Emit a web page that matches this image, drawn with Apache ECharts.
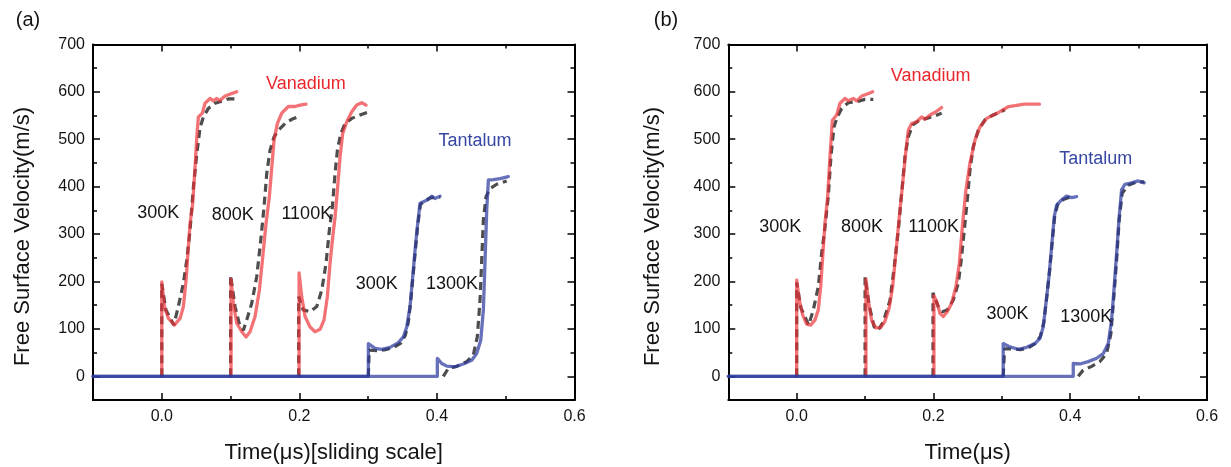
<!DOCTYPE html>
<html>
<head>
<meta charset="utf-8">
<script src="https://cdn.jsdelivr.net/npm/echarts@6/dist/echarts.min.js"></script>
<style>
html,body{margin:0;padding:0;background:#fff;}
#c{width:1231px;height:467px;}
</style>
</head>
<body>
<div id="c"></div>
<script>
// ---------- DATA (time in µs, velocity in m/s) ----------
// Panel (a): sliding time scale
const aV300Exp = [[0,0],[0,199],[0.0038,147],[0.0097,122],[0.0183,108],[0.0266,122],[0.0314,147],[0.0353,203],[0.0387,273],[0.0411,322],[0.045,365],[0.0484,442],[0.0509,505],[0.0532,547],[0.059,555],[0.0629,576],[0.0702,586],[0.075,581],[0.08,586],[0.084,581],[0.092,591],[0.099,595],[0.109,600]];
const aV300Sim = [[0,0],[0,195],[0.006,140],[0.0175,108],[0.024,147],[0.0314,196],[0.0363,245],[0.0411,308],[0.0459,398],[0.0509,469],[0.0557,525],[0.0605,547],[0.0677,565],[0.0775,576],[0.0872,580],[0.0968,585],[0.111,585]];
const aV800Exp = [[0.1007,0],[0.1007,205],[0.104,154],[0.109,112],[0.1163,94],[0.1225,83],[0.1283,94],[0.1356,126],[0.1419,182],[0.1468,252],[0.1516,323],[0.1564,379],[0.16,442],[0.1632,498],[0.168,533],[0.1744,555],[0.184,569],[0.1938,569],[0.201,572],[0.2097,574]];
const aV800Sim = [[0.1,0],[0.1,213],[0.1065,147],[0.1138,104],[0.1186,97],[0.1235,119],[0.1308,154],[0.138,210],[0.1439,287],[0.1487,358],[0.1526,428],[0.1574,477],[0.1632,505],[0.1695,519],[0.1792,533],[0.189,542],[0.201,549]];
const aV1100Exp = [[0.1996,0],[0.1996,218],[0.2034,168],[0.2083,126],[0.2156,104],[0.2228,94],[0.2301,99],[0.2359,119],[0.2407,168],[0.2446,238],[0.248,287],[0.2519,336],[0.2553,393],[0.2592,463],[0.263,512],[0.2689,537],[0.2762,558],[0.2834,572],[0.2907,577],[0.297,572]];
const aV1100Sim = [[0.199,0],[0.199,168],[0.2056,140],[0.2156,136],[0.2253,147],[0.2326,182],[0.2388,238],[0.2436,308],[0.248,358],[0.2519,428],[0.2553,477],[0.2602,512],[0.2664,533],[0.2762,544],[0.2882,551],[0.3052,560]];
const aTa300Exp = [[-0.1,0],[0.3003,0],[0.3003,69],[0.31,59],[0.3198,57],[0.3318,61],[0.3439,71],[0.3512,83],[0.3561,104],[0.3609,147],[0.3648,210],[0.3682,266],[0.3715,315],[0.3754,365],[0.3802,368],[0.3875,373],[0.3924,380],[0.3972,375],[0.4045,380]];
const aTa300Sim = [[0.3003,0],[0.3015,55],[0.3148,54],[0.325,56],[0.3375,61],[0.3475,70],[0.354,86],[0.3585,115],[0.362,160],[0.3658,220],[0.369,272],[0.3722,320],[0.376,362],[0.382,370],[0.39,376],[0.398,378],[0.405,378]];
const aTa1300Exp = [[-0.1,0],[0.4006,0],[0.4006,38],[0.407,27],[0.4144,21.5],[0.4263,20],[0.4384,26],[0.4506,34],[0.4578,48],[0.4637,76],[0.4675,140],[0.47,245],[0.4724,351],[0.4748,414],[0.482,415],[0.4917,417],[0.5038,421]];
const aTa1300Sim = [[0.4093,0],[0.4166,17],[0.4288,21],[0.4433,31],[0.4529,45],[0.4587,83],[0.4627,161],[0.4651,245],[0.4675,330],[0.4714,379],[0.4772,396],[0.4869,405],[0.5014,412]];

// Panel (b): real time scale
const bV300Exp = [[0,0],[0,203],[0.0038,161],[0.0088,129],[0.0146,110],[0.0205,108],[0.0268,119],[0.0316,140],[0.0351,189],[0.038,252],[0.0414,323],[0.0453,379],[0.0487,463],[0.0521,540],[0.0585,551],[0.0633,576],[0.0706,586],[0.0755,581],[0.0828,586],[0.0877,581],[0.095,591],[0.1023,595],[0.1111,600]];
const bV300Sim = [[0,0],[0,198],[0.006,145],[0.0175,108],[0.0243,140],[0.0316,189],[0.0365,259],[0.0414,315],[0.0462,379],[0.0501,463],[0.0545,526],[0.0594,547],[0.0658,565],[0.0755,577],[0.0877,579],[0.0999,584],[0.112,584]];
const bV800Exp = [[0.1013,0],[0.1013,205],[0.1047,160],[0.1096,118],[0.1159,102],[0.1228,103],[0.1291,116],[0.1354,145],[0.1404,190],[0.1452,262],[0.15,336],[0.155,407],[0.1598,477],[0.1632,519],[0.1681,533],[0.1754,537],[0.1827,547],[0.1876,542],[0.1949,551],[0.2037,558],[0.212,567]];
const bV800Sim = [[0.1,0],[0.1,209],[0.106,150],[0.113,105],[0.119,97],[0.1266,115],[0.1364,160],[0.1427,231],[0.1486,308],[0.1535,386],[0.1583,463],[0.1632,505],[0.1696,530],[0.1803,541],[0.19,544],[0.2022,549],[0.212,555]];
const bV1100Exp = [[0.2007,0],[0.2007,170],[0.2056,154],[0.2095,133],[0.2144,126],[0.2202,136],[0.2266,154],[0.2329,189],[0.2378,238],[0.2427,323],[0.2475,393],[0.2534,450],[0.2607,498],[0.268,526],[0.2778,544],[0.2946,556],[0.31,569],[0.333,574],[0.355,574]];
const bV1100Sim = [[0.1993,0],[0.1993,176],[0.207,147],[0.2129,136],[0.2202,140],[0.229,161],[0.2363,196],[0.2412,252],[0.245,308],[0.2495,372],[0.2534,435],[0.2582,484],[0.2655,519],[0.2753,541],[0.2843,549],[0.2946,556],[0.3045,562]];
const bTa300Exp = [[-0.1,0],[0.302,0],[0.302,69],[0.3119,62],[0.324,57],[0.3363,61],[0.3484,69],[0.3557,80],[0.3605,104],[0.3645,154],[0.3689,210],[0.3728,273],[0.3766,336],[0.3801,361],[0.3874,372],[0.3947,380],[0.402,377],[0.4094,379]];
const bTa300Sim = [[0.302,0],[0.304,58],[0.315,58],[0.327,56],[0.339,60],[0.35,70],[0.3565,85],[0.3615,115],[0.3655,165],[0.37,225],[0.374,290],[0.3775,340],[0.382,364],[0.39,373],[0.398,377],[0.406,377]];
const bTa1300Exp = [[-0.1,0],[0.4044,0],[0.4044,27],[0.4142,26],[0.4263,31],[0.4386,38],[0.4483,48],[0.4556,69],[0.4605,119],[0.4643,189],[0.4678,259],[0.4712,330],[0.4751,393],[0.48,405],[0.4898,408],[0.4994,412],[0.5082,408]];
const bTa1300Sim = [[0.4117,0],[0.419,13],[0.4313,21],[0.4434,31],[0.4532,48],[0.4595,90],[0.4634,161],[0.4678,245],[0.4716,330],[0.476,386],[0.4848,403],[0.4971,410],[0.5082,410]];

// Annotations [x, y, text]
const aTempLabels = [[-0.005,344,'300K'],[0.1033,340,'800K'],[0.2108,342,'1100K'],[0.3125,195,'300K'],[0.422,194,'1300K']];
const bTempLabels = [[-0.024,315,'300K'],[0.0955,315,'800K'],[0.2003,315,'1100K'],[0.3082,131,'300K'],[0.4234,126,'1300K']];
const aMaterialLabels = [[0.2094,616,'Vanadium'],[0.4554,496,'Tantalum']];
const bMaterialLabels = [[0.196,634,'Vanadium'],[0.4373,458,'Tantalum']];

// Axis ticks
const xMajorTicks = [0, 0.2, 0.4, 0.6];
const yMajorTicks = [0, 100, 200, 300, 400, 500, 600, 700];
const xTitles = ['Time(μs)[sliding scale]', 'Time(μs)'];
const yTitle = 'Free Surface Velocity(m/s)';
const panelTags = ['(a)', '(b)'];

// ---------- STYLE ----------
const FONT = '"Liberation Sans", Arial, Helvetica, sans-serif';
const RED = '#ec2f35';
const BLUE = '#2b3a9e';
const GRAY = '#4d4d4d';
const TXT = '#141414';

const grids = [
  {left: 93, right: 1231 - 574.5, top: 44.4, bottom: 467 - 400},
  {left: 728.3, right: 1231 - 1207, top: 44.4, bottom: 467 - 400}
];

function xAxesFor(gi) {
  const base = {gridIndex: gi, type: 'value', min: -0.1, max: 0.6, interval: 0.1,
    splitLine: {show: false}};
  const line = {show: true, onZero: false, lineStyle: {color: '#000', width: 2}};
  return [
    Object.assign({}, base, {position: 'bottom', axisLine: line,
      axisTick: {show: true, inside: true, length: 4, lineStyle: {color: '#000', width: 1.5}},
      axisLabel: {show: true, margin: 9, fontSize: 16, color: TXT, fontFamily: FONT,
        showMinLabel: true, showMaxLabel: true,
        formatter: v => { const k = Math.round(v * 10); return (k >= 0 && k % 2 === 0) ? (k / 10).toFixed(1) : ''; }}}),
    Object.assign({}, base, {position: 'top', axisLine: line,
      axisTick: {show: true, inside: true, length: 4, lineStyle: {color: '#000', width: 1.5}},
      axisLabel: {show: false}}),
    Object.assign({}, base, {position: 'bottom', axisLine: {show: false, onZero: false},
      axisTick: {show: true, inside: true, length: 7, customValues: xMajorTicks, lineStyle: {color: '#000', width: 1.5}},
      axisLabel: {show: false}}),
    Object.assign({}, base, {position: 'top', axisLine: {show: false, onZero: false},
      axisTick: {show: true, inside: true, length: 7, customValues: xMajorTicks, lineStyle: {color: '#000', width: 1.5}},
      axisLabel: {show: false}})
  ];
}
function yAxesFor(gi) {
  const base = {gridIndex: gi, type: 'value', min: -50, max: 700, interval: 50,
    splitLine: {show: false}};
  const line = {show: true, onZero: false, lineStyle: {color: '#000', width: 2}};
  return [
    Object.assign({}, base, {position: 'left', axisLine: line,
      axisTick: {show: true, inside: true, length: 4, lineStyle: {color: '#000', width: 1.5}},
      axisLabel: {show: true, margin: 8, fontSize: 16, color: TXT, fontFamily: FONT,
        formatter: v => { const r = Math.round(v); return (r >= 0 && r % 100 === 0) ? String(r) : ''; }}}),
    Object.assign({}, base, {position: 'right', axisLine: line,
      axisTick: {show: true, inside: true, length: 4, lineStyle: {color: '#000', width: 1.5}},
      axisLabel: {show: false}}),
    Object.assign({}, base, {position: 'left', axisLine: {show: false, onZero: false},
      axisTick: {show: true, inside: true, length: 7, customValues: yMajorTicks, lineStyle: {color: '#000', width: 1.5}},
      axisLabel: {show: false}}),
    Object.assign({}, base, {position: 'right', axisLine: {show: false, onZero: false},
      axisTick: {show: true, inside: true, length: 7, customValues: yMajorTicks, lineStyle: {color: '#000', width: 1.5}},
      axisLabel: {show: false}})
  ];
}

function lineSeries(data, gi, kind) {
  const ls = kind === 'sim'
    ? {color: GRAY, width: 3.2, type: [8, 5], opacity: 1, cap: 'butt'}
    : {color: kind === 'red' ? RED : BLUE, width: 3.3, type: 'solid', opacity: kind === 'red' ? 0.68 : 0.72, join: 'round', cap: 'round'};
  return {type: 'line', xAxisIndex: gi * 4, yAxisIndex: gi * 4, data: data,
    showSymbol: false, symbol: 'none', lineStyle: ls, animation: false, silent: true};
}
function labelSeries(data, gi, color) {
  return {type: 'scatter', xAxisIndex: gi * 4, yAxisIndex: gi * 4, data: data,
    symbolSize: 0, silent: true, animation: false, z: 10,
    itemStyle: {opacity: 1},
    label: {show: true, position: 'inside', formatter: p => p.value[2], opacity: 1,
      fontSize: 18, color: color, fontFamily: FONT, textBorderWidth: 0}};
}

const series = [];
const panels = [
  {sims: [aV300Sim, aV800Sim, aV1100Sim, aTa300Sim, aTa1300Sim], reds: [aV300Exp, aV800Exp, aV1100Exp], blues: [aTa300Exp, aTa1300Exp], temps: aTempLabels, mats: aMaterialLabels},
  {sims: [bV300Sim, bV800Sim, bV1100Sim, bTa300Sim, bTa1300Sim], reds: [bV300Exp, bV800Exp, bV1100Exp], blues: [bTa300Exp, bTa1300Exp], temps: bTempLabels, mats: bMaterialLabels}
];
panels.forEach((p, gi) => {
  p.sims.forEach(d => series.push(lineSeries(d, gi, 'sim')));
  p.reds.forEach(d => series.push(lineSeries(d, gi, 'red')));
  p.blues.forEach(d => series.push(lineSeries(d, gi, 'blue')));
  series.push(labelSeries(p.temps, gi, TXT));
  series.push(labelSeries([p.mats[0]], gi, '#e8262c'));
  series.push(labelSeries([p.mats[1]], gi, '#3647a3'));
});

const graphic = [
  {type: 'text', x: 28, y: 20, style: {text: panelTags[0], fontSize: 20, fontFamily: FONT, fill: TXT, align: 'center', verticalAlign: 'middle'}},
  {type: 'text', x: 666, y: 20, style: {text: panelTags[1], fontSize: 20, fontFamily: FONT, fill: TXT, align: 'center', verticalAlign: 'middle'}},
  {type: 'text', x: 23, y: 236.5, rotation: Math.PI / 2, style: {text: yTitle, fontSize: 22, fontFamily: FONT, fill: TXT, align: 'center', verticalAlign: 'middle'}},
  {type: 'text', x: 652.5, y: 236.5, rotation: Math.PI / 2, style: {text: yTitle, fontSize: 22, fontFamily: FONT, fill: TXT, align: 'center', verticalAlign: 'middle'}},
  {type: 'text', x: 333.7, y: 453, style: {text: xTitles[0], fontSize: 22, fontFamily: FONT, fill: TXT, align: 'center', verticalAlign: 'middle'}},
  {type: 'text', x: 967.7, y: 453, style: {text: xTitles[1], fontSize: 22, fontFamily: FONT, fill: TXT, align: 'center', verticalAlign: 'middle'}}
];

const chart = echarts.init(document.getElementById('c'), null, {renderer: 'canvas'});
chart.setOption({
  backgroundColor: '#ffffff',
  animation: false,
  textStyle: {fontFamily: FONT},
  grid: grids,
  xAxis: xAxesFor(0).concat(xAxesFor(1)),
  yAxis: yAxesFor(0).concat(yAxesFor(1)),
  series: series,
  graphic: graphic
});
</script>
</body>
</html>
